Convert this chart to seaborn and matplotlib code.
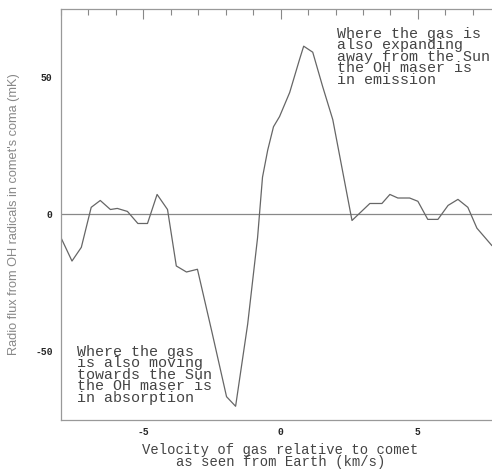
import numpy as np
import matplotlib
matplotlib.use("Agg")
import matplotlib.pyplot as plt
import seaborn as sns
from matplotlib.ticker import MultipleLocator

# velocity (km/s) and radio flux (mK)
velocity = [-8.0, -7.6, -7.26, -6.9, -6.57, -6.2, -5.95, -5.58, -5.2, -4.85,
            -4.5, -4.12, -3.8, -3.43, -3.03, -2.5, -1.97, -1.64, -1.2, -0.84,
            -0.66, -0.47, -0.26, -0.04, 0.33, 0.69, 0.84, 1.17, 1.53, 1.9,
            2.6, 3.25, 3.69, 3.98, 4.27, 4.7, 5.0, 5.36, 5.73, 6.1,
            6.46, 6.82, 7.15, 7.7]
flux = [-8.5, -17, -12, 2.6, 5.1, 1.8, 2.2, 1.1, -3.3, -3.3,
        7.3, 1.8, -18.8, -21, -20, -43, -66.5, -70, -40, -8.5,
        13.6, 23.5, 32, 35.7, 44.5, 56.6, 61.4, 59.2, 46.7, 34.6,
        -2.2, 4, 4, 7.3, 6, 6, 4.8, -1.8, -1.8, 3.3,
        5.5, 2.6, -5, -11.4]

note_emission = "Where the gas is\nalso expanding\naway from the Sun\nthe OH maser is\nin emission"
note_absorption = "Where the gas\nis also moving\ntowards the Sun\nthe OH maser is\nin absorption"

sns.set_style("white")
plt.rcParams['font.family'] = ['Liberation Mono', 'DejaVu Sans Mono']
plt.rcParams['axes.unicode_minus'] = False

fig = plt.figure(figsize=(4.92, 4.69), dpi=100)
ax = fig.add_axes([0.124, 0.1045, 0.876, 0.8765])

gray = '#666666'
ax.axhline(0, color='#888888', lw=0.9)
sns.lineplot(x=velocity, y=flux, sort=False, ax=ax, color=gray, lw=0.9)

ax.set_xlim(-8, 7.7)
ax.set_ylim(-75, 75)
ax.xaxis.set_major_locator(MultipleLocator(5))
ax.xaxis.set_minor_locator(MultipleLocator(1))
ax.yaxis.set_major_locator(MultipleLocator(50))
ax.yaxis.set_minor_locator(MultipleLocator(10))
ax.tick_params(which='both', direction='in', top=True, color='#888888')
ax.tick_params(which='major', length=7, width=0.8, labelsize=7, pad=6)
ax.tick_params(which='minor', length=4, width=0.8)
ax.tick_params(axis='x', which='major', pad=5)
for lab in ax.get_xticklabels() + ax.get_yticklabels():
    lab.set_fontweight('bold')

for side in ['left', 'top', 'bottom']:
    ax.spines[side].set_color('#999999')
    ax.spines[side].set_linewidth(0.9)
ax.spines['right'].set_visible(False)

ax.set_xlabel("Velocity of gas relative to comet\nas seen from Earth (km/s)",
              fontsize=10, color='#444444', linespacing=0.88)
ax.xaxis.set_label_coords(0.509, -0.055, transform=ax.transAxes)
ax.xaxis.label.set_va('top')
ax.set_ylabel("Radio flux from OH radicals in comet's coma (mK)",
              family=['Liberation Sans'], fontsize=9.2, color='#888888')
ax.yaxis.set_label_coords(-0.095, 0.5, transform=ax.transAxes)

ax.text(2.05, 68.5, note_emission, fontsize=10.8, color='#444444',
        va='top', ha='left', linespacing=0.78)
ax.text(-7.4, -47.5, note_absorption, fontsize=10.8, color='#444444',
        va='top', ha='left', linespacing=0.78)

fig.savefig("out.png", dpi=100)
